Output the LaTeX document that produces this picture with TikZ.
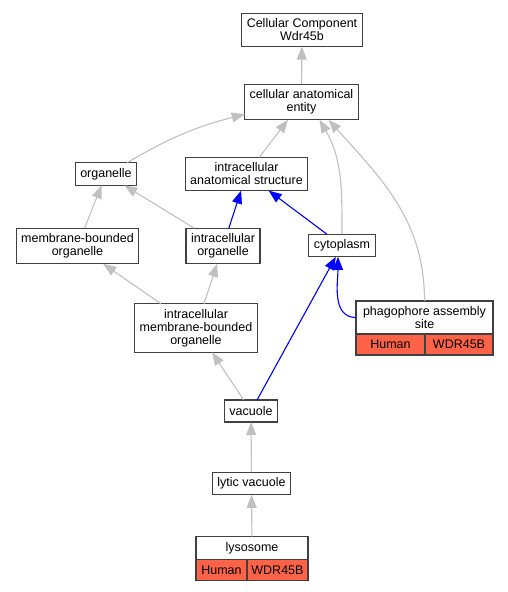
\documentclass[tikz,border=0pt]{standalone}
\usepackage{fontspec}
\setmainfont{Liberation Sans}
\usetikzlibrary{arrows.meta}
\definecolor{edgegray}{RGB}{192,192,192}
\definecolor{boxline}{RGB}{64,64,64}
\definecolor{tomato}{RGB}{255,99,71}

\begin{document}
\begin{tikzpicture}[x=1pt, y=-1pt,
	box/.style={draw=boxline, line width=1.2pt, fill=white, align=center, outer sep=0pt,
		inner xsep=5pt, inner ysep=5.5pt, minimum height=22pt, font=\fontsize{12.5}{13}\selectfont},
	hit/.style={box, fill=tomato, inner xsep=4.5pt, minimum height=21pt},
	isa/.style={draw=edgegray, line width=1.1pt, -{Triangle[length=13pt, width=10pt]}},
	part/.style={draw=blue, line width=1.1pt, -{Triangle[length=13pt, width=10pt]}}]
	\useasboundingbox (0,0) rectangle (508,592);
	\node[box] (cc)   at (302, 30)    {Cellular Component\\Wdr45b};
	\node[box] (cae)  at (301.5, 102) {cellular anatomical\\entity};
	\node[box] (org)  at (106, 174)   {organelle};
	\node[box] (ias)  at (246.5, 174) {intracellular\\anatomical structure};
	\node[box] (mbo)  at (77.5, 246)  {membrane-bounded\\organelle};
	\node[box] (io)   at (223, 246)   {intracellular\\organelle};
	\node[box] (cyt)  at (342, 245.5) {cytoplasm};
	\node[box] (imbo) at (196, 328)   {intracellular\\membrane-bounded\\organelle};
	\node[box, minimum width=137pt] (pas) at (424.5, 317.5) {phagophore assembly\\site};
	\node[hit, anchor=north west, minimum width=69pt] (pasH) at (pas.south west) {Human};
	\node[hit, anchor=north east, minimum width=68pt] (pasG) at (pas.south east) {WDR45B};
	\node[box] (vac)  at (251, 411)   {vacuole};
	\node[box] (lv)   at (251.5, 483.5) {lytic vacuole};
	\node[box, minimum width=112pt] (lys) at (252, 548) {lysosome};
	\node[hit, anchor=north west, minimum width=51pt] (lysH) at (lys.south west) {Human};
	\node[hit, anchor=north east, minimum width=61pt] (lysG) at (lys.south east) {WDR45B};
	% is_a
	\draw[isa] (cae) -- (cc);
	\draw[isa] (org) to[bend left=8] (cae);
	\draw[isa] (ias) -- (cae);
	\draw[isa] (cyt.north) to[out=90, in=-60] ([xshift=18pt]cae.south);
	\draw[isa] (pas.north) to[out=90, in=-48] ([xshift=27pt]cae.south);
	\draw[isa] (mbo) -- (org);
	\draw[isa] (io) -- (org);
	\draw[isa] (imbo) -- (mbo);
	\draw[isa] (imbo) -- (io);
	\draw[isa] (vac) -- (imbo);
	\draw[isa] (lv) -- (vac);
	\draw[isa] (lys) -- (lv);
	% part_of
	\draw[part] (io) -- (ias);
	\draw[part] (cyt) -- (ias);
	\draw[part] (vac) -- (cyt);
	\draw[part] (pas.west) to[out=180, in=-90] ([xshift=-4pt]cyt.south);
\end{tikzpicture}
\end{document}
